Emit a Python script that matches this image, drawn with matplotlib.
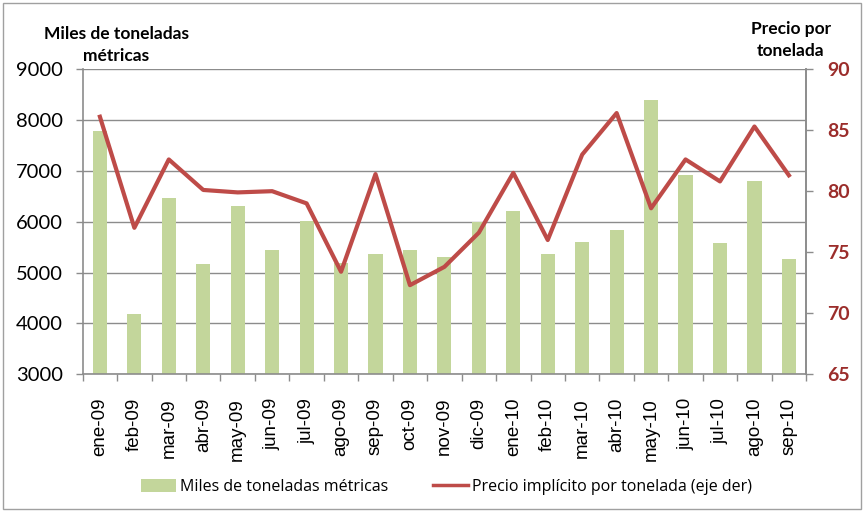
import matplotlib
matplotlib.use("Agg")
import matplotlib.pyplot as plt
import numpy as np
from matplotlib.patches import Rectangle
from matplotlib.lines import Line2D
from matplotlib.patches import Patch

plt.rcParams['font.family'] = ['Lato', 'DejaVu Sans']

categories = ["ene-09", "feb-09", "mar-09", "abr-09", "may-09", "jun-09", "jul-09",
              "ago-09", "sep-09", "oct-09", "nov-09", "dic-09", "ene-10", "feb-10",
              "mar-10", "abr-10", "may-10", "jun-10", "jul-10", "ago-10", "sep-10"]
toneladas = [7790, 4190, 6470, 5170, 6310, 5450, 6010, 5180, 5370, 5450, 5310,
             6000, 6215, 5370, 5600, 5840, 8400, 6920, 5585, 6805, 5270]
precio = [86.1, 77.0, 82.6, 80.1, 79.9, 80.0, 79.0, 73.4, 81.4, 72.3, 73.8,
          76.6, 81.5, 76.0, 83.0, 86.4, 78.6, 82.6, 80.8, 85.3, 81.3]
left_ticks = [3000, 4000, 5000, 6000, 7000, 8000, 9000]
right_ticks = [65, 70, 75, 80, 85, 90]

bar_color = "#C3D69B"
line_color = "#BE4B48"
grid_color = "#8C8C8C"
right_label_color = "#9B2D2B"

fig = plt.figure(figsize=(8.64, 5.12), dpi=100)
fig.patches.append(Rectangle((0.004, 0.006), 0.992, 0.988, transform=fig.transFigure,
                             fill=False, edgecolor="#A0A0A0", linewidth=1.0))

ax = fig.add_axes([0.0957, 0.269, 0.8373, 0.596])
x = np.arange(len(categories))
ax.bar(x, toneladas, width=0.41, color=bar_color, zorder=2)
ax.set_ylim(3000, 9000)
ax.set_xlim(-0.5, len(categories) - 0.5)
ax.set_yticks(left_ticks)
ax.set_yticklabels([str(v) for v in left_ticks], fontsize=14.5)
ax.yaxis.grid(True, color=grid_color, linewidth=1.0, zorder=0)
ax.set_axisbelow(True)
ax.set_xticks(x)
ax.set_xticklabels(categories, rotation=90, fontsize=13.5,
                   fontfamily=['Liberation Sans', 'DejaVu Sans'])
ax.tick_params(axis='x', length=0, pad=17)
ax.set_xticks(np.arange(-0.5, len(categories)), minor=True)
ax.tick_params(axis='x', which='minor', length=5, color=grid_color, width=1)
ax.tick_params(axis='y', length=5, color=grid_color, width=1, pad=9)
ax.spines['top'].set_visible(False)
for s in ['left', 'bottom', 'right']:
    ax.spines[s].set_color(grid_color)
    ax.spines[s].set_linewidth(1.2)

ax2 = ax.twinx()
ax2.plot(x, precio, color=line_color, linewidth=3, zorder=3)
ax2.set_ylim(65, 90)
ax2.set_yticks(right_ticks)
ax2.set_yticklabels([str(v) for v in right_ticks], fontsize=14, fontweight='bold',
                    color=right_label_color)
ax2.tick_params(axis='y', length=5, color=grid_color, width=1, pad=10)
for s in ['top', 'left', 'bottom']:
    ax2.spines[s].set_visible(False)
ax2.spines['right'].set_color(grid_color)
ax2.spines['right'].set_linewidth(1.2)

fig.text(116 / 864, 1 - 45 / 512, "Miles de toneladas\nmétricas", ha='center', va='center',
         fontsize=12.5, fontweight='bold', linespacing=1.5)
fig.text(791 / 864, 1 - 40 / 512, "Precio por\ntonelada", ha='center', va='center',
         fontsize=12.5, fontweight='bold', linespacing=1.4)

handles = [Patch(facecolor=bar_color, edgecolor='none'),
           Line2D([0], [0], color=line_color, linewidth=2.5)]
fig.legend(handles, ["Miles de toneladas métricas", "Precio implícito por tonelada (eje der)"],
           loc='center', bbox_to_anchor=(0.517, 1 - 487 / 512), ncol=2, frameon=False,
           prop={'family': ['Open Sans', 'DejaVu Sans'], 'size': 11.5},
           handlelength=2.2, handleheight=0.8, handletextpad=0.25, columnspacing=2.8)

fig.savefig("out.png", dpi=100)
